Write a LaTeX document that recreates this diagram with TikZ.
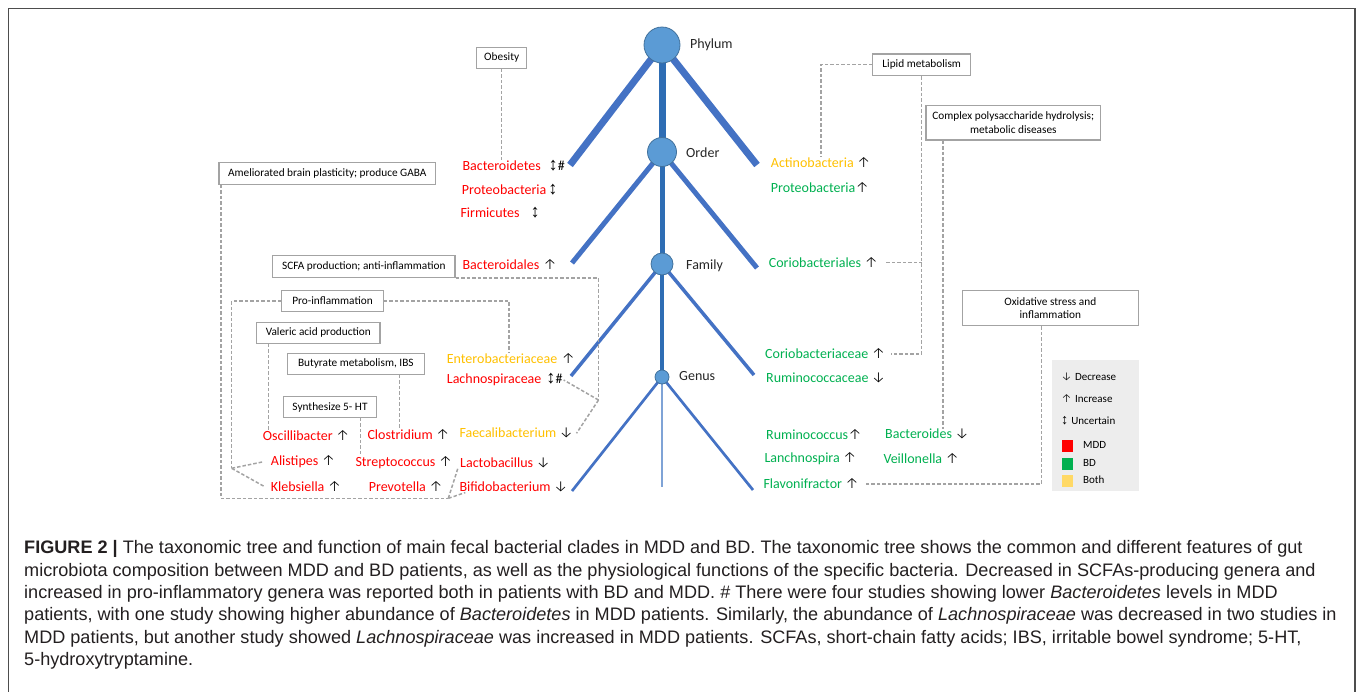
\documentclass[tikz,border=0pt]{standalone}
\usepackage{fontspec}
\setmainfont{Carlito}
\newfontfamily\capfont{Liberation Sans}
\newfontfamily\arrfont[Scale=1.1]{Fira Sans Light}
\newfontfamily\bothfont[Scale=1.3]{Liberation Sans}
\usetikzlibrary{positioning,backgrounds}
\definecolor{TreeBlue}{HTML}{4472C4}
\definecolor{TrunkBlue}{HTML}{2E6DB4}
\definecolor{TipBlue}{HTML}{7FA3D6}
\definecolor{NodeFill}{HTML}{5B9BD5}
\definecolor{NodeLine}{HTML}{41719C}
\definecolor{MddRed}{HTML}{FF0000}
\definecolor{BdGreen}{HTML}{00B050}
\definecolor{BothGold}{HTML}{FFC000}
\definecolor{BothPale}{HTML}{FFD966}
\definecolor{BoxLine}{HTML}{A3A3A3}
\definecolor{LegendBg}{HTML}{EDEDED}
\definecolor{FrameInk}{HTML}{4D4D4D}
\definecolor{CapInk}{HTML}{231F20}
\newcommand\arUp{{\arrfont ↑}}
\newcommand\arDown{{\arrfont ↓}}
\newcommand\arBoth{{\bothfont ↕}}
\newcommand\inMdd[1]{\textcolor{MddRed}{#1}}
\newcommand\inBd[1]{\textcolor{BdGreen}{#1}}
\newcommand\inBoth[1]{\textcolor{BothGold}{#1}}

\begin{document}
\begin{tikzpicture}[x=1pt,y=-1pt,
  rank/.style={circle,draw=NodeLine,fill=NodeFill,line width=.8pt,inner sep=0pt},
  ranklab/.style={anchor=west,inner sep=0pt,font=\fontsize{14}{16}\selectfont,text=black!85},
  taxon/.style={anchor=west,inner sep=0pt,font=\fontsize{14}{16}\selectfont},
  fnbox/.style={draw=BoxLine,fill=white,line width=1.3pt,inner sep=2pt,align=center,font=\fontsize{11.3}{13.5}\selectfont},
  legtext/.style={anchor=west,inner sep=0pt,font=\fontsize{11}{13}\selectfont},
  key/.style={inner sep=0pt,minimum size=11.6pt},
  link/.style={draw=BoxLine,line width=1.5pt,dash pattern=on 3.5pt off 2pt},
  capline/.style={anchor=west,inner sep=0pt,font=\capfont\fontsize{18.1}{21}\selectfont,text=CapInk}]
\useasboundingbox (0,0) rectangle (1357,691);
\draw[FrameInk,line width=1.5pt] (8.5,700) -- (8.5,8.5) -- (1355,8.5) -- (1355,700);

\node[rank,minimum size=36pt] (phylum) at (662,45) {};
\node[rank,minimum size=29pt] (order) at (662,152) {};
\node[rank,minimum size=22pt] (family) at (662,264) {};
\node[rank,minimum size=14pt] (genus) at (662,377) {};
\node[ranklab] (phylumlab) at (690,45) {Phylum};
\node[ranklab] (orderlab) at (686,153) {Order};
\node[ranklab] (familylab) at (686,266) {Family};
\node[ranklab] (genuslab) at (679,376) {Genus};

\coordinate (phyL) at (570,165);
\coordinate (phyR) at (757,165);
\coordinate (ordL) at (572,263);
\coordinate (ordR) at (757,268);
\coordinate (famL) at (571,376);
\coordinate (famR) at (754,375);
\coordinate (genL) at (572,491);
\coordinate (genR) at (753,490);
\coordinate (genB) at (662,487);

\begin{scope}[on background layer]
\draw[TreeBlue,line width=7pt] (phylum.center) -- (phyL);
\draw[TreeBlue,line width=7pt] (phylum.center) -- (phyR);
\draw[TrunkBlue,line width=7pt] (phylum.center) -- (order.center);
\draw[TreeBlue,line width=5pt] (order.center) -- (ordL);
\draw[TreeBlue,line width=5pt] (order.center) -- (ordR);
\draw[TrunkBlue,line width=5pt] (order.center) -- (family.center);
\draw[TreeBlue,line width=3.5pt] (family.center) -- (famL);
\draw[TreeBlue,line width=3.5pt] (family.center) -- (famR);
\draw[TrunkBlue,line width=3.5pt] (family.center) -- (genus.center);
\draw[TreeBlue,line width=2.7pt] (genus.center) -- (genL);
\draw[TreeBlue,line width=2.7pt] (genus.center) -- (genR);
\draw[TipBlue,line width=2.2pt] (genus.center) -- (genB);
\end{scope}

\node[taxon] (bacteroidetes) at (462.3,165.7) {\inMdd{Bacteroidetes}\hspace{8pt}\arBoth\#};
\node[taxon] (proteoL) at (461.7,189.3) {\inMdd{Proteobacteria}\hspace{2pt}\arBoth};
\node[taxon] (firmicutes) at (460.3,212.3) {\inMdd{Firmicutes}\hspace{11pt}\arBoth};
\node[taxon] (bacteroidales) at (462.3,265) {\inMdd{Bacteroidales}\hspace{4pt}\arUp};
\node[taxon] (entero) at (446.7,358.3) {\inBoth{Enterobacteriaceae}\hspace{4pt}\arUp};
\node[taxon] (lachno) at (446.7,380) {\inMdd{Lachnospiraceae}\hspace{5pt}\arBoth\#};
\node[taxon] (oscill) at (262.7,436) {\inMdd{Oscillibacter} \arUp};
\node[taxon] (clostridium) at (367.3,435) {\inMdd{Clostridium} \arUp};
\node[taxon] (faecali) at (459.3,433.3) {\inBoth{Faecalibacterium} \arDown};
\node[taxon] (alistipes) at (270.7,461.7) {\inMdd{Alistipes} \arUp};
\node[taxon] (strepto) at (355.3,462.7) {\inMdd{Streptococcus} \arUp};
\node[taxon] (lacto) at (460,462.7) {\inMdd{Lactobacillus} \arDown};
\node[taxon] (klebsiella) at (270.7,486.7) {\inMdd{Klebsiella} \arUp};
\node[taxon] (prevotella) at (368.7,486.7) {\inMdd{Prevotella} \arUp};
\node[taxon] (bifido) at (459.3,487.3) {\inMdd{Bifidobacterium} \arDown};

\node[taxon] (actino) at (770.7,162.7) {\inBoth{Actinobacteria} \arUp};
\node[taxon] (proteoR) at (770.7,187.3) {\inBd{Proteobacteria}\arUp};
\node[taxon] (coriales) at (768.7,262.7) {\inBd{Coriobacteriales} \arUp};
\node[taxon] (coriaceae) at (765,354) {\inBd{Coriobacteriaceae} \arUp};
\node[taxon] (rumaceae) at (766,378.3) {\inBd{Ruminococcaceae} \arDown};
\node[taxon] (ruminococcus) at (766,434.3) {\inBd{Ruminococcus}\arUp};
\node[taxon] (bacteroides) at (885,434.3) {\inBd{Bacteroides} \arDown};
\node[taxon] (lanchno) at (764.3,459) {\inBd{Lanchnospira} \arUp};
\node[taxon] (veillonella) at (883.3,459) {\inBd{Veillonella} \arUp};
\node[taxon] (flavoni) at (763.3,484) {\inBd{Flavonifractor} \arUp};

\node[fnbox,minimum width=50pt,minimum height=21pt] (obesity) at (501.7,57.8) {Obesity};
\node[fnbox,minimum width=216.7pt,minimum height=21.6pt] (gaba) at (327.3,173.5) {Ameliorated brain plasticity; produce GABA};
\node[fnbox,minimum width=98pt,minimum height=21.3pt] (lipid) at (921.7,64.7) {Lipid metabolism};
\node[fnbox,minimum width=174.7pt,minimum height=34.7pt] (complex) at (1013.3,122.7) {Complex polysaccharide hydrolysis;\\ metabolic diseases};
\node[fnbox,minimum width=176pt,minimum height=35pt] (oxid) at (1050.3,308.2) {Oxidative stress and\\ inflammation};
\node[fnbox,minimum width=182.3pt,minimum height=21.6pt] (scfa) at (363.8,266.5) {SCFA production; anti-inflammation};
\node[fnbox,minimum width=101.6pt,minimum height=20.6pt] (proinf) at (332.5,301) {Pro-inflammation};
\node[fnbox,minimum width=123.3pt,minimum height=21pt] (valeric) at (318.3,332.8) {Valeric acid production};
\node[fnbox,minimum width=137pt,minimum height=21pt] (butyrate) at (355.8,363.8) {Butyrate metabolism, IBS};
\node[fnbox,minimum width=93.3pt,minimum height=20.6pt] (synth) at (330,407) {Synthesize 5- HT};

\coordinate (gabaJ) at (448.3,498.3);
\coordinate (scfaJ) at (598.5,400);
\coordinate (proinfJ) at (231.7,468.3);
\draw[link] (obesity) -- (obesity |- bacteroidetes.north);
\draw[link] ([xshift=2.5pt]gaba.south west) |- (gabaJ);
\draw[link] (gabaJ) -- ([xshift=-2pt]lacto.south west);
\draw[link] (gabaJ) -- ([xshift=6pt]bifido.south west);
\draw[link] (lipid) -| (actino.north);
\draw[link] (lipid) |- ([xshift=5pt]coriaceae.east);
\draw[link] ([xshift=8pt]coriales.east) -- (coriales.east -| lipid.south);
\draw[link] ([xshift=17.7pt]complex.south west) coordinate (complexT) -- (complexT |- bacteroides.north);
\draw[link] ([xshift=-8.6pt]oxid.south) |- ([xshift=7pt]flavoni.east);
\draw[link] (scfa.south east) -| (scfaJ);
\draw[link] (scfaJ) -- ([xshift=1pt]lachno.east);
\draw[link] (scfaJ) -- ([xshift=3pt]faecali.east);
\draw[link] (proinf) -| (proinfJ);
\draw[link] (proinfJ) -- ([xshift=-7pt]alistipes.west);
\draw[link] (proinfJ) -- ([xshift=-6pt]klebsiella.west);
\draw[link] (proinf) -| ([xshift=-2pt]entero.north);
\draw[link] ([xshift=12.6pt]valeric.south west) coordinate (valericT) -- (valericT |- oscill.north);
\draw[link] ([xshift=-25.3pt]butyrate.south east) coordinate (butyrateT) -- (butyrateT |- clostridium.north);
\draw[link] ([xshift=-16.7pt]synth.south east) coordinate (synthT) -- (synthT |- strepto.north);

\node[fill=LegendBg,inner sep=0pt,minimum width=87pt,minimum height=131pt] (legend) at (1095.5,425.5) {};
\node[legtext] (legdec) at (1061,377) {\arDown\hspace{3pt}Decrease};
\node[legtext] (leginc) at (1061,399) {\arUp\hspace{3pt}Increase};
\node[legtext] (legunc) at (1061,421) {\arBoth\hspace{3pt}Uncertain};
\node[key,fill=MddRed] (keymdd) at (1067.5,445.8) {};
\node[key,fill=BdGreen] (keybd) at (1067.5,464.2) {};
\node[key,fill=BothPale] (keyboth) at (1067.5,480.8) {};
\node[legtext] (keymddlab) at (1083,445) {MDD};
\node[legtext] (keybdlab) at (1083,463.3) {BD};
\node[legtext] (keybothlab) at (1083,480) {Both};

\node[capline] (cap1) at (24,549) {\textbf{FIGURE 2 |} The taxonomic tree and function of main fecal bacterial clades in MDD and BD. The taxonomic tree shows the common and different features of gut};
\node[capline] (cap2) at (24,571.4) {microbiota composition between MDD and BD patients, as well as the physiological functions of the specific bacteria. Decreased in SCFAs-producing genera and};
\node[capline] (cap3) at (24,593.8) {increased in pro-inflammatory genera was reported both in patients with BD and MDD. \# There were four studies showing lower \textit{Bacteroidetes} levels in MDD};
\node[capline] (cap4) at (24,616.2) {patients, with one study showing higher abundance of \textit{Bacteroidetes} in MDD patients. Similarly, the abundance of \textit{Lachnospiraceae} was decreased in two studies in};
\node[capline] (cap5) at (24,638.6) {MDD patients, but another study showed \textit{Lachnospiraceae} was increased in MDD patients. SCFAs, short-chain fatty acids; IBS, irritable bowel syndrome; 5-HT,};
\node[capline] (cap6) at (24,661) {5-hydroxytryptamine.};
\end{tikzpicture}
\end{document}
